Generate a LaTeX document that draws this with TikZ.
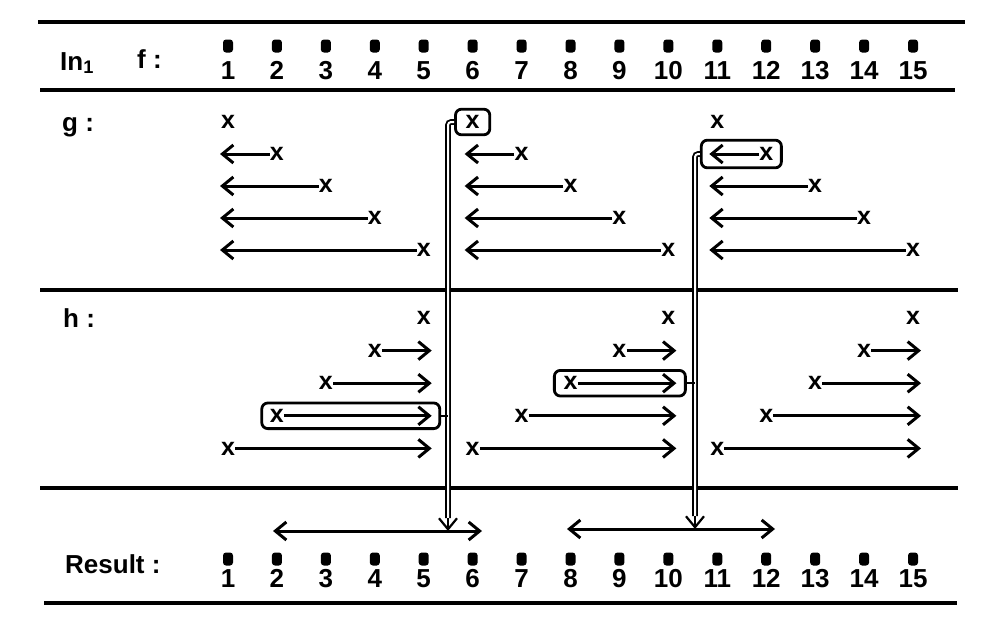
\documentclass[tikz,border=0pt]{standalone}
\usepackage{fontspec}
\setmainfont{Liberation Sans}
\usetikzlibrary{arrows.meta,positioning,fit}

\begin{document}
\begin{tikzpicture}[
    x=1pt, y=-1pt,
    >={Straight Barb[length=11pt,width=18pt]},
    font=\fontsize{26}{28}\selectfont\bfseries,
    sepline/.style={line width=3.4pt},
    dotbox/.style={fill=black, rounded corners=3pt,
        minimum width=10pt, minimum height=13pt, inner sep=0pt},
    numlabel/.style={inner sep=0pt, anchor=base},
    xmark/.style={inner sep=0pt, font=\fontsize{25}{25}\selectfont\bfseries},
    span/.style={->, line width=3pt},
    selbox/.style={draw, line width=2.8pt, rounded corners=6pt},
    link/.style={double, double distance=2pt, line width=1.8pt},
    stub/.style={line width=2pt},
]
\useasboundingbox (0,0) rectangle (982,632);

% ============================================================
% SEPARATING RULES
% ============================================================
\draw[sepline] (38,22) -- (965,22);
\draw[sepline] (40,90) -- (955,90);
\draw[sepline] (40,290) -- (958,290);
\draw[sepline] (40,488) -- (958,488);
\draw[sepline] (44,603) -- (957,603);

% ============================================================
% HEADER: In_1, f
% ============================================================
\node[anchor=base west, inner sep=0pt] (inlbl) at (60,70) {In\textsubscript{1}};
\node[anchor=base west, inner sep=0pt] (flbl) at (137,68) {f :};

\foreach \i in {1,...,15} {
    \pgfmathsetmacro\cx{228+48.93*(\i-1)}
    \node[dotbox] (f\i) at (\cx,46) {};
    \node[numlabel] (fn\i) at (\cx,79) {\i};
}

% ============================================================
% g : backward spans
% ============================================================
\node[anchor=base west, inner sep=0pt] (glbl) at (62,131) {g :};

\foreach \s [count=\b] in {1,6,11} {
    \pgfmathsetmacro\tx{228+48.93*(\s-1)-8}
    \foreach \k in {0,...,4} {
        \pgfmathtruncatemacro\j{\s+\k}
        \pgfmathsetmacro\cx{228+48.93*(\j-1)}
        \pgfmathsetmacro\cy{122+32*\k}
        \node[xmark] (g\b-\k) at (\cx,\cy) {x};
        \coordinate (gt\b-\k) at (\tx,\cy);
    }
    \foreach \k in {1,...,4}
        \draw[span] (g\b-\k) -- (gt\b-\k);
}

% ============================================================
% h : forward spans
% ============================================================
\node[anchor=base west, inner sep=0pt] (hlbl) at (63,327) {h :};

\foreach \e [count=\b] in {5,10,15} {
    \pgfmathsetmacro\tx{228+48.93*(\e-1)+8}
    \foreach \k in {0,...,4} {
        \pgfmathtruncatemacro\j{\e-\k}
        \pgfmathsetmacro\cx{228+48.93*(\j-1)}
        \pgfmathsetmacro\cy{318+32.6*\k}
        \node[xmark] (h\b-\k) at (\cx,\cy) {x};
        \coordinate (ht\b-\k) at (\tx,\cy);
    }
    \foreach \k in {1,...,4}
        \draw[span] (h\b-\k) -- (ht\b-\k);
}

% selected entries
\node[selbox, inner xsep=10pt, inner ysep=6pt, fit=(g2-0)] (gsel1) {};
\node[selbox, inner xsep=8pt, inner ysep=7pt, fit=(g3-1)(gt3-1)] (gsel2) {};
\node[selbox, inner xsep=8pt, inner ysep=6pt, fit=(h1-3)(ht1-3)] (hsel1) {};
\node[selbox, inner xsep=9pt, inner ysep=6pt, fit=(h2-2)(ht2-2)] (hsel2) {};

% ============================================================
% RESULT
% ============================================================
\node[anchor=base west, inner sep=0pt] (reslbl) at (65,573) {Result :};

\foreach \i in {1,...,15} {
    \pgfmathsetmacro\cx{228+48.93*(\i-1)}
    \node[dotbox] (r\i) at (\cx,559) {};
    \node[numlabel] (rn\i) at (\cx,587) {\i};
}

\coordinate (res1l) at (273,531);
\coordinate (res1r) at (482,531);
\coordinate (res2l) at (567,529);
\coordinate (res2r) at (775,529);
\draw[span,<->] (res1l) -- (res1r);
\draw[span,<->] (res2l) -- (res2r);

% links from the selected entries down to the result
\coordinate (hit1) at (448,531);
\coordinate (hit2) at (695,529);
\coordinate (pre1) at (448,518);
\coordinate (pre2) at (695,516);
\draw[link,rounded corners=3pt] (gsel1.west) -| (pre1);
\draw[link,rounded corners=3pt] (gsel2.west) -| (pre2);
\draw[->, line width=2.2pt] (pre1) -- (hit1);
\draw[->, line width=2.2pt] (pre2) -- (hit2);
\draw[stub] (hsel1.east) -- (hsel1.east -| hit1);
\draw[stub] (hsel2.east) -- (hsel2.east -| hit2);

\end{tikzpicture}
\end{document}
